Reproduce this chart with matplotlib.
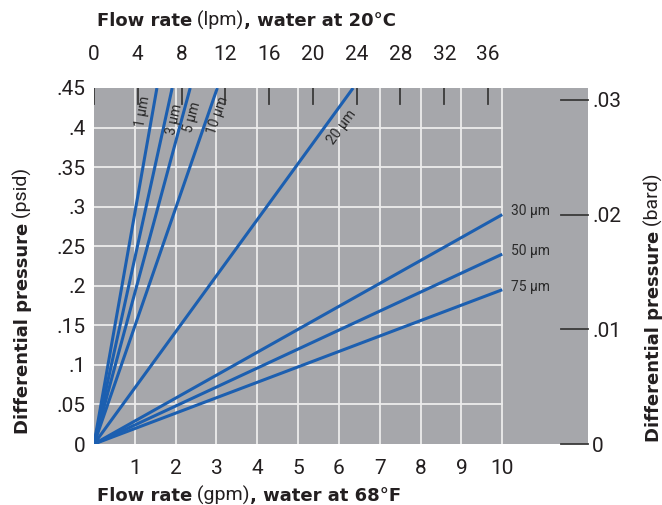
"""Differential pressure vs. flow rate for filter cartridge grades."""

import numpy as np
import matplotlib

matplotlib.use("Agg")
import matplotlib.pyplot as plt

# filter grades and their pressure-drop slopes (psid per gpm)
GRADES = ["1 µm", "3 µm", "5 µm", "10 µm", "20 µm", "30 µm", "50 µm", "75 µm"]
SLOPES = [0.292, 0.235, 0.191, 0.149, 0.0709, 0.029, 0.024, 0.0195]
# where the rotated labels sit (gpm, psid) for the steep grades
ROTATED_LABEL_POS = {
    "1 µm": (1.19, 0.42),
    "3 µm": (1.98, 0.41),
    "5 µm": (2.42, 0.413),
    "10 µm": (3.03, 0.415),
    "20 µm": (6.08, 0.40),
}
END_LABELED = ["30 µm", "50 µm", "75 µm"]

GPM_TICKS = list(range(1, 11))
PSID_TICKS = [0, 0.05, 0.1, 0.15, 0.2, 0.25, 0.3, 0.35, 0.4, 0.45]
PSID_LABELS = ["0", ".05", ".1", ".15", ".2", ".25", ".3", ".35", ".4", ".45"]
LPM_TICKS = [0, 4, 8, 12, 16, 20, 24, 28, 32, 36]
BARD_TICKS = [0, 0.01, 0.02, 0.03]
BARD_LABELS = ["0", ".01", ".02", ".03"]

LPM_PER_GPM = 3.73   # as spaced on the printed top scale
PSI_PER_BAR = 14.5038
X_MAX = 10.0
X_LIMIT = 12.1
Y_LIMIT = 0.45

W, H = 662, 505
GRAY = "#a6a7ab"
BLUE = "#1c5fb0"
TEXT = "#231f20"
LABEL_GRAY = "#2a2a2a"
LIGHT = "Roboto"
BOLD = "DejaVu Sans"


def mixed_text(fig, x_px, y_px, parts, size, vertical=False):
    """Place runs of bold/regular text end to end on one baseline (pixel coords, y from top)."""
    renderer = fig.canvas.get_renderer()
    pos = 0.0
    for text, weight in parts:
        family = BOLD if weight == "bold" else LIGHT
        if vertical:
            xy = (x_px / W, 1 - (y_px - pos) / H)
        else:
            xy = ((x_px + pos) / W, 1 - y_px / H)
        t = fig.text(*xy, text, fontsize=size if weight == "bold" else size + 1,
                     family=family, fontweight=weight,
                     color=TEXT, ha="left", va="baseline",
                     rotation=90 if vertical else 0, rotation_mode="anchor")
        ext = t.get_window_extent(renderer)
        pos += ext.height if vertical else ext.width


fig = plt.figure(figsize=(W / 100, H / 100), dpi=100)
ax = fig.add_axes([94 / W, 1 - 444 / H, (588 - 94) / W, (444 - 88) / H])
ax.set_facecolor(GRAY)
for side in ax.spines.values():
    side.set_visible(False)

ax.set_xlim(0, X_LIMIT)
ax.set_ylim(0, Y_LIMIT)

# grid only covers the charted 0-10 gpm field
for g in GPM_TICKS:
    ax.plot([g, g], [0, Y_LIMIT], color="#ececec", lw=1.3, zorder=1)
for p in PSID_TICKS[1:-1]:
    ax.plot([0, X_MAX], [p, p], color="#ececec", lw=1.3, zorder=1)

# top lpm ticks drawn inside the plot
for lpm in LPM_TICKS:
    g = lpm / LPM_PER_GPM
    ax.plot([g, g], [Y_LIMIT, Y_LIMIT - 0.02], color="#3a3a3a", lw=1.3, zorder=2)

# bard ticks near the right edge
for b in BARD_TICKS:
    p = b * PSI_PER_BAR
    ax.plot([11.45, X_LIMIT], [p, p], color="#3a3a3a", lw=1.3, zorder=2, clip_on=False)

for grade, slope in zip(GRADES, SLOPES):
    x_end = min(X_MAX, Y_LIMIT / slope)
    xs = np.array([0.0, x_end])
    ax.plot(xs, slope * xs, color=BLUE, lw=2.2, zorder=3, solid_capstyle="butt")
    if grade in ROTATED_LABEL_POS:
        lx, ly = ROTATED_LABEL_POS[grade]
        angle = np.degrees(np.arctan(slope))
        ax.text(lx, ly, grade, fontsize=10, family=LIGHT,
                color=LABEL_GRAY, rotation=angle, transform_rotates_text=True,
                rotation_mode="anchor", ha="center", va="center", zorder=4)
    elif grade in END_LABELED:
        ax.text(X_MAX + 0.22, slope * X_MAX + 0.004, grade, fontsize=10,
                family=LIGHT, color=LABEL_GRAY,
                ha="left", va="center", zorder=4)

tick_font = dict(fontsize=15, family=LIGHT, color=TEXT)

ax.set_xticks(GPM_TICKS)
ax.set_xticklabels([str(g) for g in GPM_TICKS], **tick_font)
ax.set_yticks(PSID_TICKS)
ax.set_yticklabels(PSID_LABELS, **tick_font)
ax.tick_params(axis="x", length=0, pad=11)
ax.tick_params(axis="y", length=0, pad=6)

top = ax.twiny()
top.set_xlim(0, X_LIMIT * LPM_PER_GPM)
top.set_xticks(LPM_TICKS)
top.set_xticklabels([str(v) for v in LPM_TICKS], **tick_font)
top.tick_params(length=0, pad=17)
for side in top.spines.values():
    side.set_visible(False)

right = ax.twinx()
right.set_ylim(0, Y_LIMIT / PSI_PER_BAR)
right.set_yticks(BARD_TICKS)
right.set_yticklabels(BARD_LABELS, **tick_font)
right.tick_params(length=0, pad=3)
for side in right.spines.values():
    side.set_visible(False)

mixed_text(fig, 97, 26, [("Flow rate", "bold"), (" (lpm)", "normal"),
                         (", water at 20°C", "bold")], 13)
mixed_text(fig, 97, 501, [("Flow rate", "bold"), (" (gpm)", "normal"),
                          (", water at 68°F", "bold")], 13)
mixed_text(fig, 28, 434, [("Differential pressure", "bold"), (" (psid)", "normal")],
           13, vertical=True)
mixed_text(fig, 659, 442, [("Differential pressure", "bold"), (" (bard)", "normal")],
           13, vertical=True)

fig.savefig("out.png", dpi=100)
